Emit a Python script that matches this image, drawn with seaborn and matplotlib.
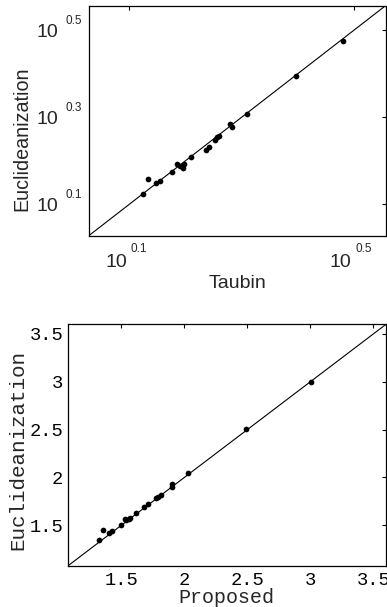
import matplotlib
matplotlib.use("Agg")
import matplotlib.pyplot as plt
import seaborn as sns
from matplotlib.ticker import FixedLocator, NullLocator, NullFormatter

# top panel: Taubin vs Euclideanization (log axes)
taubin = [1.333, 1.357, 1.403, 1.428, 1.501, 1.532, 1.549, 1.567, 1.575, 1.620,
          1.722, 1.748, 1.789, 1.801, 1.818, 1.902, 1.916, 2.038, 2.495, 3.026]
euclid_top = [1.328, 1.435, 1.405, 1.422, 1.492, 1.556, 1.540, 1.521, 1.556, 1.612,
              1.676, 1.703, 1.767, 1.793, 1.808, 1.920, 1.890, 2.028, 2.480, 2.980]

# bottom panel: Proposed vs Euclideanization
proposed = [1.327, 1.359, 1.399, 1.425, 1.494, 1.526, 1.540, 1.561, 1.572, 1.614,
            1.680, 1.712, 1.774, 1.792, 1.814, 1.899, 1.899, 2.032, 2.490, 3.003]
euclid_bottom = [1.344, 1.455, 1.424, 1.438, 1.507, 1.570, 1.552, 1.570, 1.580, 1.632,
                 1.691, 1.726, 1.785, 1.801, 1.819, 1.933, 1.899, 2.045, 2.505, 3.001]

top_lims = [1.067, 3.597]
bottom_lims = [1.075, 3.60]
top_xtick_exps = [0.1, 0.5]
top_ytick_exps = [0.1, 0.3, 0.5]
bottom_ticks = [1.5, 2, 2.5, 3, 3.5]
bottom_ticklabels = ["1.5", "2", "2.5", "3", "3.5"]

sns.set_style("white")
plt.rcParams["font.family"] = ["Liberation Sans", "DejaVu Sans"]
mono = ["Liberation Mono", "DejaVu Sans Mono"]

fig = plt.figure(figsize=(3.87, 6.07), dpi=100)

# ---- top panel ----
ax1 = fig.add_axes([0.2300, 0.6120, 0.7662, 0.3786])
ax1.set_xscale("log")
ax1.set_yscale("log")
sns.lineplot(x=top_lims, y=top_lims, ax=ax1, color="black", linewidth=0.8)
sns.scatterplot(x=taubin, y=euclid_top, ax=ax1, color="black", s=17,
                linewidth=0, zorder=3)
ax1.set_xlim(top_lims)
ax1.set_ylim(top_lims)
ax1.xaxis.set_major_locator(FixedLocator([10 ** e for e in top_xtick_exps]))
ax1.yaxis.set_major_locator(FixedLocator([10 ** e for e in top_ytick_exps]))
for axis in (ax1.xaxis, ax1.yaxis):
    axis.set_minor_locator(NullLocator())
    axis.set_major_formatter(NullFormatter())
    axis.set_minor_formatter(NullFormatter())

# tick labels drawn as "10" plus a small raised exponent
for e in top_ytick_exps:
    ax1.annotate("10", xy=(0, 10 ** e), xycoords=("axes fraction", "data"),
                 xytext=(-22.1, -1.9), textcoords="offset points",
                 ha="right", va="center", fontsize=14)
    ax1.annotate(f"{e:g}", xy=(0, 10 ** e), xycoords=("axes fraction", "data"),
                 xytext=(-4.8, 6.6), textcoords="offset points",
                 ha="right", va="center", fontsize=8.5)
for e in top_xtick_exps:
    ax1.annotate("10", xy=(10 ** e, 0), xycoords=("data", "axes fraction"),
                 xytext=(-1.7, -19.2), textcoords="offset points",
                 ha="right", va="center", fontsize=14)
    ax1.annotate(f"{e:g}", xy=(10 ** e, 0), xycoords=("data", "axes fraction"),
                 xytext=(0.9, -9.9), textcoords="offset points",
                 ha="left", va="center", fontsize=8.5)

ax1.set_xlabel("Taubin", fontsize=14)
ax1.set_ylabel("Euclideanization", fontsize=14.2)
ax1.xaxis.set_label_coords(0.5, -0.173)
ax1.yaxis.set_label_coords(-0.196, 0.42)

# ---- bottom panel ----
ax2 = fig.add_axes([0.1749, 0.0675, 0.8225, 0.3982])
sns.lineplot(x=bottom_lims, y=bottom_lims, ax=ax2, color="black", linewidth=0.8)
sns.scatterplot(x=proposed, y=euclid_bottom, ax=ax2, color="black", s=17,
                linewidth=0, zorder=3)
ax2.set_xlim(bottom_lims)
ax2.set_ylim(bottom_lims)
ax2.set_xticks(bottom_ticks, bottom_ticklabels, fontfamily=mono, fontsize=13.5)
ax2.set_yticks(bottom_ticks, bottom_ticklabels, fontfamily=mono, fontsize=13.5)
ax2.set_xlabel("Proposed", fontfamily=mono, fontsize=14.4)
ax2.set_ylabel("Euclideanization", fontfamily=mono, fontsize=15)
ax2.xaxis.set_label_coords(0.5, -0.092)
ax2.yaxis.set_label_coords(-0.126, 0.48)

for ax in (ax1, ax2):
    ax.tick_params(which="major", direction="in", length=3, width=0.8,
                   top=True, right=True, colors="black")
    for spine in ax.spines.values():
        spine.set_color("black")
        spine.set_linewidth(0.9)
ax2.tick_params(axis="x", pad=4.5)
ax2.tick_params(axis="y", pad=3.2)

fig.savefig("out.png", dpi=100)
plt.close(fig)
